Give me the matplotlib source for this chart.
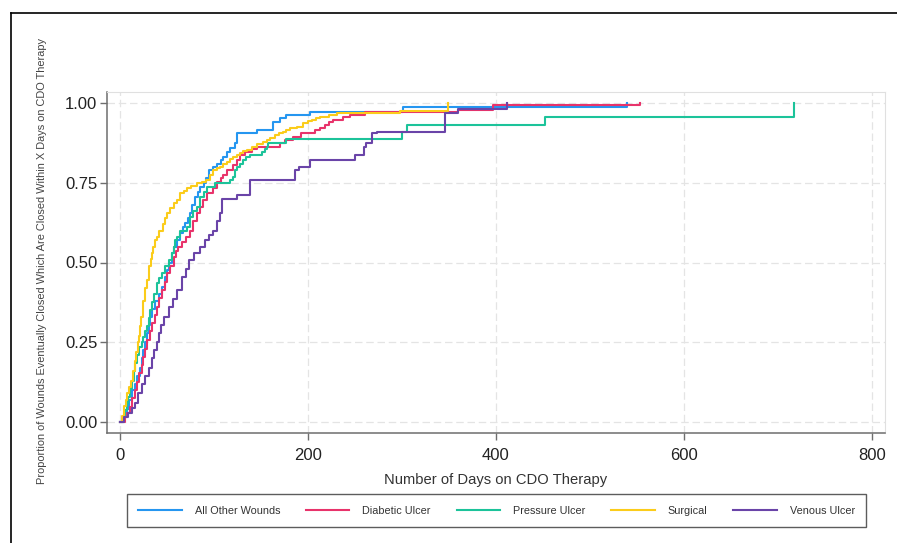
import matplotlib
matplotlib.use("Agg")
import matplotlib.pyplot as plt
from matplotlib.lines import Line2D

plt.rcParams["font.family"] = ["Liberation Sans", "DejaVu Sans"]

# cumulative proportion closed by day: (day, proportion) at each step
all_other = [(0, 0), (4, 0.015), (7, 0.04), (10, 0.07), (13, 0.10), (16, 0.12),
             (18, 0.145), (21, 0.17), (23, 0.20), (25, 0.225), (27, 0.25), (29, 0.28),
             (31, 0.305), (32, 0.33), (34, 0.355), (37, 0.38), (41, 0.40), (45, 0.424),
             (48, 0.455), (50, 0.475), (52, 0.50), (55, 0.53), (58, 0.55), (61, 0.57),
             (64, 0.592), (67, 0.61), (69, 0.624), (72, 0.64), (74, 0.655), (77, 0.68),
             (80, 0.705), (83, 0.72), (85, 0.737), (89, 0.75), (92, 0.765), (95, 0.79),
             (99, 0.80), (103, 0.81), (107, 0.82), (110, 0.83), (114, 0.845), (117, 0.86),
             (122, 0.875), (125, 0.905), (146, 0.915), (163, 0.94), (170, 0.953),
             (177, 0.962), (202, 0.972), (301, 0.987), (539, 1.0)]

diabetic = [(0, 0), (5, 0.015), (8, 0.03), (11, 0.047), (13, 0.075), (16, 0.10),
            (18, 0.125), (20, 0.153), (23, 0.18), (25, 0.204), (27, 0.23), (29, 0.257),
            (32, 0.285), (34, 0.31), (37, 0.335), (39, 0.36), (42, 0.39), (45, 0.414),
            (48, 0.44), (50, 0.467), (53, 0.49), (57, 0.517), (60, 0.535), (62, 0.549),
            (66, 0.565), (70, 0.58), (74, 0.60), (78, 0.63), (82, 0.655), (85, 0.675),
            (88, 0.696), (93, 0.718), (99, 0.733), (103, 0.752), (107, 0.765),
            (110, 0.774), (114, 0.79), (120, 0.806), (124, 0.82), (128, 0.837),
            (133, 0.846), (140, 0.855), (146, 0.862), (170, 0.875), (176, 0.884),
            (184, 0.893), (193, 0.905), (207, 0.915), (213, 0.922), (218, 0.93),
            (222, 0.94), (227, 0.947), (237, 0.956), (245, 0.962), (261, 0.972),
            (360, 0.978), (397, 0.994), (553, 1.0)]

pressure = [(0, 0), (3, 0.015), (5, 0.038), (7, 0.06), (9, 0.08), (11, 0.105),
            (13, 0.13), (15, 0.16), (16, 0.185), (18, 0.21), (20, 0.235), (23, 0.25),
            (25, 0.267), (27, 0.285), (29, 0.30), (31, 0.325), (32, 0.35), (34, 0.375),
            (36, 0.40), (39, 0.435), (42, 0.45), (45, 0.467), (48, 0.49), (52, 0.508),
            (55, 0.53), (57, 0.55), (59, 0.57), (61, 0.58), (64, 0.60), (71, 0.611),
            (74, 0.643), (78, 0.66), (82, 0.674), (85, 0.705), (89, 0.72), (93, 0.737),
            (101, 0.749), (117, 0.759), (120, 0.768), (122, 0.79), (125, 0.80),
            (128, 0.81), (131, 0.82), (134, 0.83), (138, 0.837), (151, 0.846),
            (154, 0.855), (156, 0.862), (157, 0.875), (177, 0.887), (300, 0.91),
            (305, 0.93), (452, 0.956), (717, 1.0)]

surgical = [(0, 0), (2, 0.02), (4, 0.05), (6, 0.07), (8, 0.09), (10, 0.11), (12, 0.13),
            (14, 0.16), (16, 0.19), (17, 0.22), (19, 0.25), (20, 0.27), (21, 0.30),
            (22, 0.33), (24, 0.36), (25, 0.38), (27, 0.42), (29, 0.445), (31, 0.49),
            (33, 0.51), (34, 0.53), (35, 0.55), (37, 0.57), (39, 0.58), (42, 0.60),
            (46, 0.62), (48, 0.64), (50, 0.655), (53, 0.67), (57, 0.685), (61, 0.696),
            (64, 0.718), (68, 0.725), (71, 0.733), (76, 0.74), (82, 0.749), (87, 0.753),
            (92, 0.759), (96, 0.775), (99, 0.79), (103, 0.795), (106, 0.80), (110, 0.808),
            (114, 0.815), (117, 0.823), (120, 0.83), (124, 0.837), (128, 0.843),
            (131, 0.848), (135, 0.853), (141, 0.862), (146, 0.87), (152, 0.878),
            (156, 0.884), (160, 0.89), (165, 0.90), (169, 0.905), (173, 0.91),
            (177, 0.915), (181, 0.92), (188, 0.925), (195, 0.937), (200, 0.942),
            (204, 0.947), (209, 0.952), (213, 0.956), (222, 0.962), (231, 0.969),
            (298, 0.975), (349, 1.0)]

venous = [(0, 0), (4, 0.015), (9, 0.03), (13, 0.045), (16, 0.06), (19, 0.09),
          (23, 0.12), (27, 0.145), (31, 0.17), (34, 0.20), (36, 0.225), (39, 0.25),
          (41, 0.28), (44, 0.305), (47, 0.33), (52, 0.36), (56, 0.385), (61, 0.414),
          (66, 0.455), (70, 0.48), (73, 0.508), (79, 0.53), (85, 0.55), (90, 0.57),
          (95, 0.585), (99, 0.60), (103, 0.63), (106, 0.655), (109, 0.70), (124, 0.71),
          (138, 0.757), (186, 0.79), (191, 0.80), (202, 0.82), (250, 0.837),
          (260, 0.862), (262, 0.875), (268, 0.905), (273, 0.91), (346, 0.968),
          (360, 0.98), (412, 1.0)]

series = [
    ("All Other Wounds", all_other, "#2596f0"),
    ("Diabetic Ulcer", diabetic, "#e8336b"),
    ("Pressure Ulcer", pressure, "#1cc39a"),
    ("Surgical", surgical, "#fbcc1a"),
    ("Venous Ulcer", venous, "#6a44a8"),
]

W, H = 897, 543
fig = plt.figure(figsize=(W / 100, H / 100), dpi=100)
fig.patch.set_facecolor("white")

# frame lines along the top and left edge
fig.add_artist(Line2D([11 / W, 1], [1 - 13 / H, 1 - 13 / H], color="black", lw=1.2))
fig.add_artist(Line2D([11 / W, 11 / W], [0, 1 - 13 / H], color="black", lw=1.2))

ax = fig.add_axes([107 / W, 1 - 433 / H, (885 - 107) / W, (433 - 92) / H])
for label, pts, c in series:
    days, prop = zip(*pts)
    ax.step(days, prop, where="post", color=c, lw=1.5, label=label)

ax.set_xlim(-13.8, 814)
ax.set_ylim(-0.034, 1.034)
ax.set_xticks([0, 200, 400, 600, 800])
ax.set_yticks([0, 0.25, 0.5, 0.75, 1.0])
ax.set_yticklabels(["0.00", "0.25", "0.50", "0.75", "1.00"])
ax.grid(True, color="#e4e4e4", ls=(0, (6, 3)), lw=0.9)
ax.set_axisbelow(True)
for s in ("top", "right"):
    ax.spines[s].set_color("#e0e0e0")
for s in ("left", "bottom"):
    ax.spines[s].set_color("#6e6e6e")
    ax.spines[s].set_linewidth(1.1)
ax.tick_params(direction="out", length=5, width=1, color="#6e6e6e",
               labelsize=12, labelcolor="#222222", pad=2)
ax.tick_params(axis="x", pad=6)

ax.set_xlabel("Number of Days on CDO Therapy", fontsize=10.6, color="#333333",
              labelpad=7)
fig.text(42 / W, 1 - 261 / H,
         "Proportion of Wounds Eventually Closed Which Are Closed Within X Days on CDO Therapy",
         rotation=90, ha="center", va="center", fontsize=7.9, color="#444444")

leg = fig.legend(loc="lower left", ncol=5, mode="expand",
                 bbox_to_anchor=(127 / W, 1 - 527 / H, (866 - 127) / W, 34 / H),
                 fontsize=7.8, handlelength=4.0, handletextpad=1.2,
                 borderpad=1.05, fancybox=False, frameon=True, borderaxespad=0)
leg.get_frame().set_edgecolor("#333333")
leg.get_frame().set_linewidth(1.0)
for t in leg.get_texts():
    t.set_color("#333333")

fig.savefig("out.png", dpi=100, facecolor="white")
